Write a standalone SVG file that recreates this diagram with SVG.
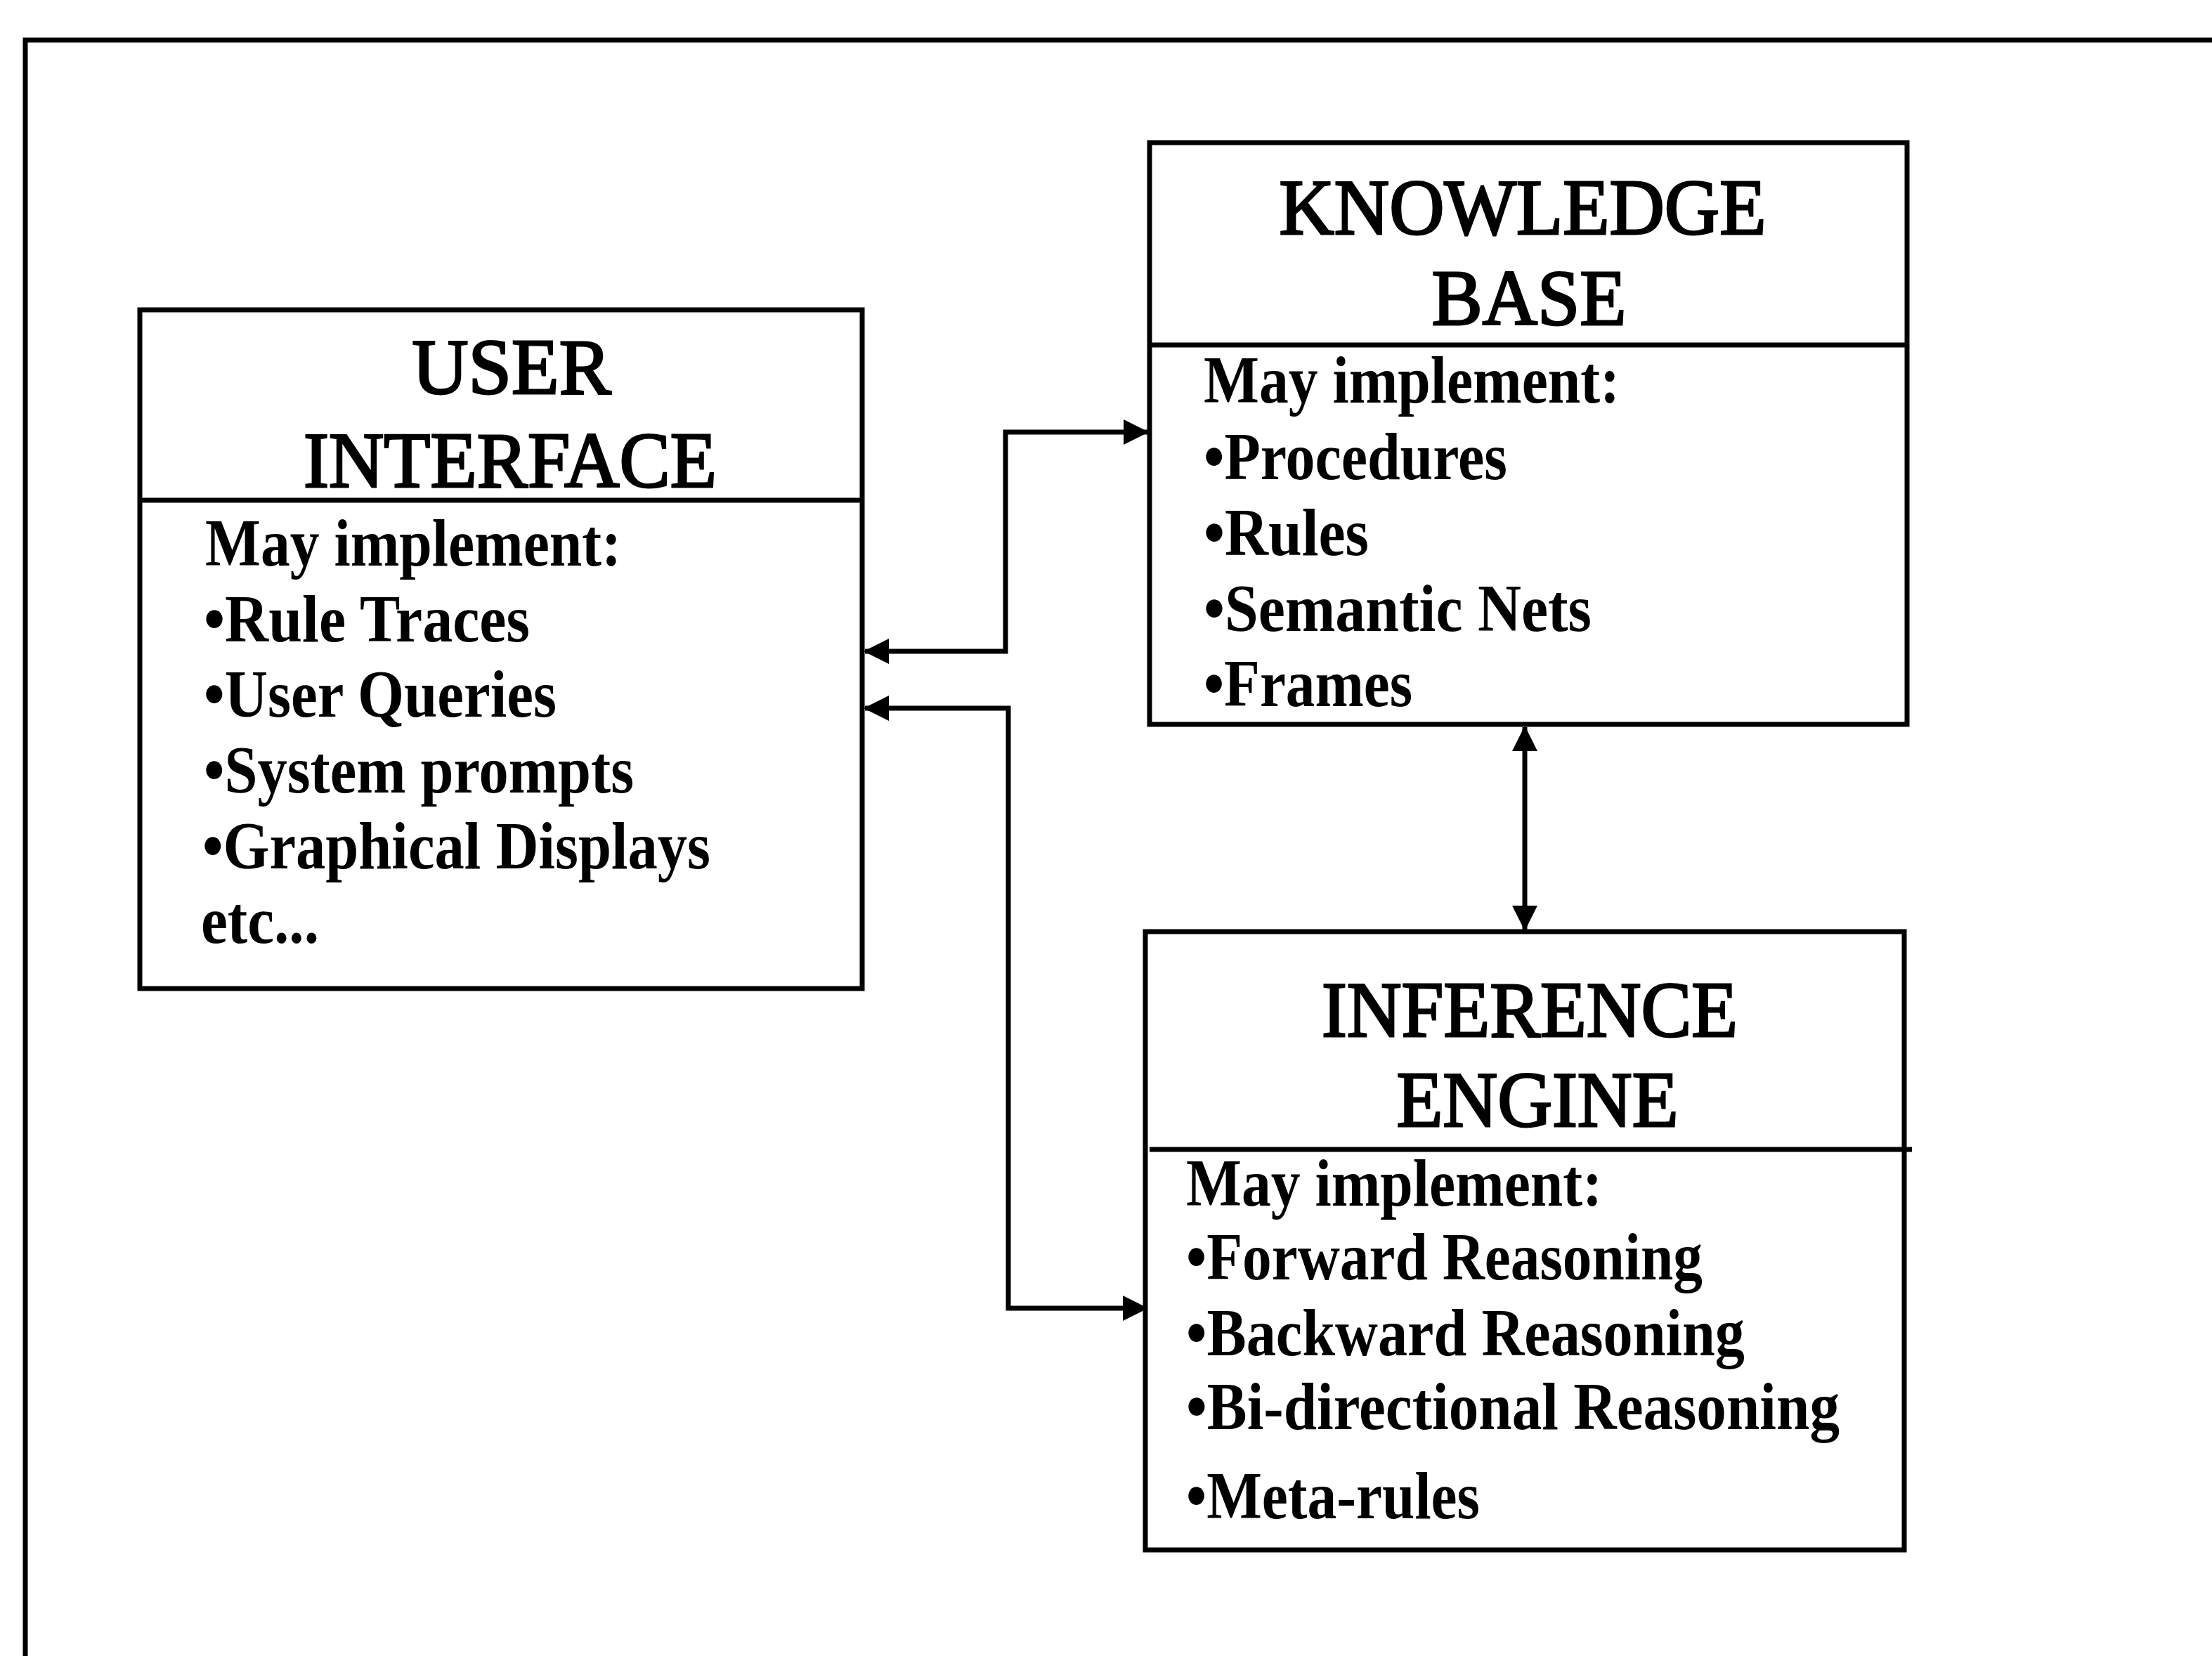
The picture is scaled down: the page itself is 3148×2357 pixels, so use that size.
<svg xmlns="http://www.w3.org/2000/svg" width="3148" height="2357" viewBox="0 0 3148 2357">
  <style>
    .box { fill: none; stroke: #000; stroke-width: 7; }
    .rule { stroke: #000; stroke-width: 7; fill: none; }
    .wire { fill: none; stroke: #000; stroke-width: 7; }
    .title { font-family: "Liberation Serif", "Times New Roman", serif; font-size: 113px; font-weight: normal; fill: #000; stroke: #000; stroke-width: 3; text-anchor: middle; }
    .body { font-family: "Liberation Serif", "Times New Roman", serif; font-size: 95px; font-weight: bold; fill: #000; }
  </style>
  <defs>
    <marker id="arrow" viewBox="0 0 36 36" refX="34" refY="18" markerWidth="36" markerHeight="36" markerUnits="userSpaceOnUse" orient="auto-start-reverse">
      <path d="M0,0 L36,18 L0,36 Z" fill="#000"/>
    </marker>
  </defs>

  <rect x="0" y="0" width="3148" height="2357" fill="#fff"/>

  <!-- outer frame (top and left edges) -->
  <path class="rule" d="M3160,57 H36 V2370"/>

  <!-- user interface -->
  <g id="user-interface">
    <rect class="box" x="199" y="441" width="1028" height="966"/>
    <line class="rule" x1="199" y1="712" x2="1227" y2="712"/>
    <text class="title" x="728" y="560" textLength="283" lengthAdjust="spacingAndGlyphs">USER</text>
    <text class="title" x="726" y="693" textLength="588" lengthAdjust="spacingAndGlyphs">INTERFACE</text>
    <text class="body" x="292" y="805" textLength="592" lengthAdjust="spacingAndGlyphs">May implement:</text>
    <text class="body" x="290" y="913" textLength="464" lengthAdjust="spacingAndGlyphs">•Rule Traces</text>
    <text class="body" x="290" y="1020" textLength="502" lengthAdjust="spacingAndGlyphs">•User Queries</text>
    <text class="body" x="290" y="1128" textLength="612" lengthAdjust="spacingAndGlyphs">•System prompts</text>
    <text class="body" x="288" y="1236" textLength="723" lengthAdjust="spacingAndGlyphs">•Graphical Displays</text>
    <text class="body" x="286" y="1342" textLength="168" lengthAdjust="spacingAndGlyphs">etc...</text>
  </g>

  <!-- knowledge base -->
  <g id="knowledge-base">
    <rect class="box" x="1636" y="203" width="1078" height="828"/>
    <line class="rule" x1="1636" y1="491" x2="2714" y2="491"/>
    <text class="title" x="2167" y="333" textLength="693" lengthAdjust="spacingAndGlyphs">KNOWLEDGE</text>
    <text class="title" x="2176" y="462" textLength="277" lengthAdjust="spacingAndGlyphs">BASE</text>
    <text class="body" x="1713" y="573" textLength="592" lengthAdjust="spacingAndGlyphs">May implement:</text>
    <text class="body" x="1713" y="682" textLength="432" lengthAdjust="spacingAndGlyphs">•Procedures</text>
    <text class="body" x="1713" y="790" textLength="235" lengthAdjust="spacingAndGlyphs">•Rules</text>
    <text class="body" x="1713" y="898" textLength="552" lengthAdjust="spacingAndGlyphs">•Semantic Nets</text>
    <text class="body" x="1713" y="1005" textLength="297" lengthAdjust="spacingAndGlyphs">•Frames</text>
  </g>

  <!-- inference engine -->
  <g id="inference-engine">
    <rect class="box" x="1630" y="1326" width="1080" height="880"/>
    <line class="rule" x1="1636" y1="1636" x2="2721" y2="1636"/>
    <text class="title" x="2177" y="1475" textLength="592" lengthAdjust="spacingAndGlyphs">INFERENCE</text>
    <text class="title" x="2188" y="1603" textLength="401" lengthAdjust="spacingAndGlyphs">ENGINE</text>
    <text class="body" x="1688" y="1716" textLength="592" lengthAdjust="spacingAndGlyphs">May implement:</text>
    <text class="body" x="1688" y="1821" textLength="735" lengthAdjust="spacingAndGlyphs">•Forward Reasoning</text>
    <text class="body" x="1688" y="1929" textLength="795" lengthAdjust="spacingAndGlyphs">•Backward Reasoning</text>
    <text class="body" x="1688" y="2034" textLength="930" lengthAdjust="spacingAndGlyphs">•Bi-directional Reasoning</text>
    <text class="body" x="1688" y="2161" textLength="418" lengthAdjust="spacingAndGlyphs">•Meta-rules</text>
  </g>

  <!-- connectors -->
  <g id="connectors">
    <path class="wire" d="M1231,927 H1431 V615 H1633" marker-start="url(#arrow)" marker-end="url(#arrow)"/>
    <path class="wire" d="M1231,1008 H1435 V1862 H1632" marker-start="url(#arrow)" marker-end="url(#arrow)"/>
    <path class="wire" d="M2170,1035 V1323" marker-start="url(#arrow)" marker-end="url(#arrow)"/>
  </g>
</svg>
